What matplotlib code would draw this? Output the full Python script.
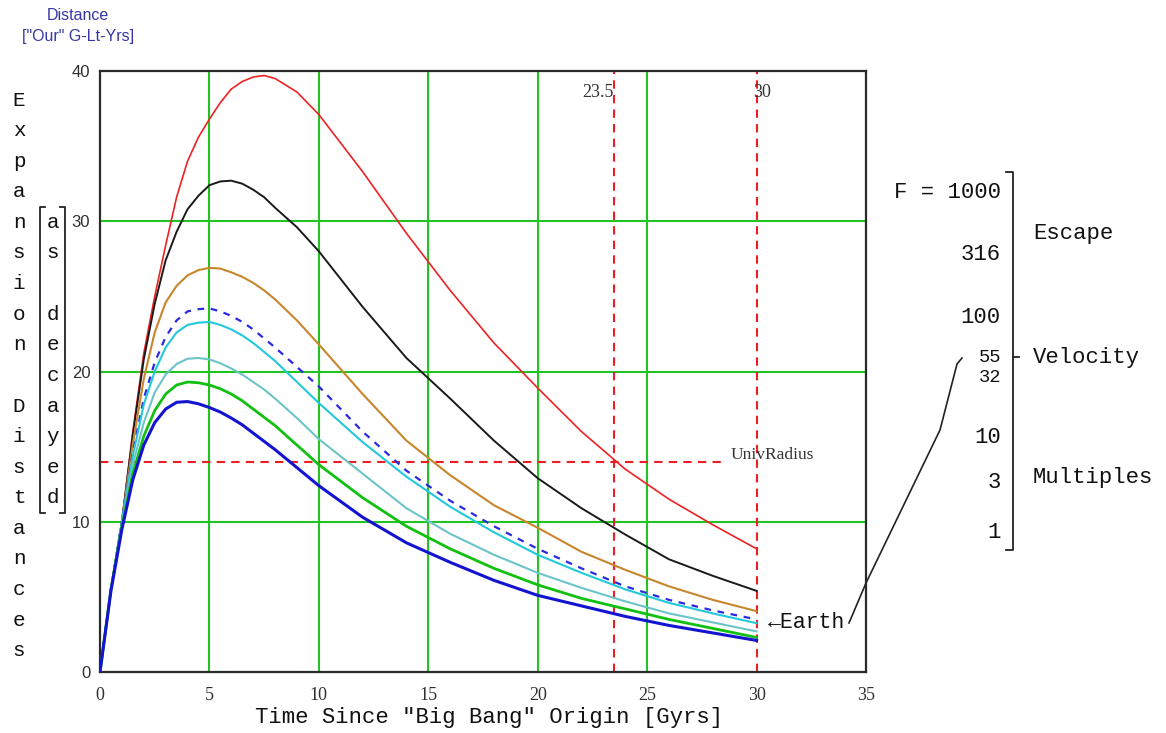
import matplotlib
matplotlib.use('Agg')
import matplotlib.pyplot as plt
from matplotlib.lines import Line2D

# ---------------- data ----------------
t = [0, 0.5, 1, 1.5, 2, 2.5, 3, 3.5, 4, 4.5, 5, 5.5, 6, 6.5, 7, 7.5, 8, 9, 10,
     12, 14, 16, 18, 20, 22, 24, 26, 28, 30]

d_red = [0, 5.5, 10, 16, 21.2, 25, 28.4, 31.6, 34.0, 35.6, 36.8, 37.9, 38.8, 39.3, 39.6, 39.7, 39.5, 38.6, 37.1,
         33.3, 29.2, 25.4, 21.9, 18.9, 16.0, 13.5, 11.5, 9.8, 8.2]
d_black = [0, 5.5, 10, 15.8, 20.8, 24.5, 27.4, 29.3, 30.8, 31.7, 32.4, 32.65, 32.7, 32.5, 32.1, 31.6, 30.9, 29.6, 28.0,
           24.3, 20.9, 18.2, 15.4, 12.9, 10.9, 9.15, 7.5, 6.4, 5.4]
d_orange = [0, 5.5, 10, 15.2, 19.5, 22.6, 24.6, 25.7, 26.4, 26.75, 26.9, 26.85, 26.6, 26.3, 25.9, 25.4, 24.8, 23.4, 21.8,
            18.5, 15.4, 13.1, 11.1, 9.6, 8.0, 6.8, 5.7, 4.8, 4.05]
d_dash = [0, 5.5, 10, 14.6, 18.2, 20.6, 22.3, 23.4, 24.0, 24.15, 24.2, 24.0, 23.7, 23.3, 22.8, 22.2, 21.6, 20.3, 19.0,
          16.0, 13.4, 11.4, 9.7, 8.2, 6.9, 5.7, 4.8, 4.1, 3.5]
d_cyan = [0, 5.5, 10, 14.4, 17.8, 20.0, 21.6, 22.6, 23.1, 23.25, 23.3, 23.1, 22.8, 22.4, 21.9, 21.3, 20.7, 19.3, 17.9,
          15.3, 13.0, 11.0, 9.3, 7.8, 6.6, 5.5, 4.6, 3.9, 3.25]
d_lcyan = [0, 5.5, 9.8, 13.8, 16.6, 18.6, 19.8, 20.5, 20.85, 20.9, 20.8, 20.55, 20.2, 19.8, 19.3, 18.8, 18.2, 16.9, 15.5,
           13.2, 10.9, 9.2, 7.8, 6.6, 5.6, 4.7, 3.9, 3.3, 2.7]
d_green = [0, 5.5, 9.7, 13.2, 15.7, 17.4, 18.5, 19.1, 19.3, 19.25, 19.1, 18.85, 18.5, 18.05, 17.5, 16.95, 16.4, 15.1, 13.8,
           11.6, 9.7, 8.2, 6.9, 5.8, 4.9, 4.2, 3.5, 2.9, 2.3]
d_blue = [0, 5.4, 9.5, 12.8, 15.1, 16.6, 17.5, 17.95, 18.0, 17.85, 17.6, 17.3, 16.9, 16.45, 15.9, 15.35, 14.8, 13.6, 12.4,
          10.3, 8.6, 7.3, 6.1, 5.1, 4.4, 3.7, 3.1, 2.6, 2.1]

x_ticks = [0, 5, 10, 15, 20, 25, 30, 35]
y_ticks = [0, 10, 20, 30, 40]
x_grid = [5, 10, 15, 20, 25]
y_grid = [10, 20, 30]
univ_radius = 14
now_time = 23.5
end_time = 30

f_labels = ["F = 1000", "316", "100", "10", "3", "1"]
f_small = ["55", "32"]
side_words = ["Escape", "Velocity", "Multiples"]

# ---------------- figure ----------------
W, H = 1166, 733
fig = plt.figure(figsize=(W / 100, H / 100), dpi=100)
fig.patch.set_facecolor('white')


def fx(px):
    return px / W


def fy(py):
    return 1 - py / H


ax = fig.add_axes([fx(100), fy(672), 766 / W, 601 / H])
ax.set_xlim(0, 35)
ax.set_ylim(0, 40)

for s in ax.spines.values():
    s.set_linewidth(1.6)
    s.set_color('#2a2a2a')

grid_c = '#22c422'
for xv in x_grid:
    ax.axvline(xv, color=grid_c, lw=1.5, zorder=1)
for yv in y_grid:
    ax.axhline(yv, color=grid_c, lw=1.5, zorder=1)

red_d = '#ee1c24'
ax.axvline(now_time, color=red_d, lw=1.5, ls=(0, (4, 3)), zorder=2)
ax.axvline(end_time, color=red_d, lw=1.5, ls=(0, (4, 3)), zorder=2)
ax.plot([0, 28.4], [univ_radius, univ_radius], color=red_d, lw=1.5, ls=(0, (4, 3)), zorder=2)

ax.plot(t, d_red, color='#ee2222', lw=1.2, zorder=3)
ax.plot(t, d_black, color='#1a1a1a', lw=1.4, zorder=3)
ax.plot(t, d_orange, color='#c8862c', lw=1.5, zorder=3)
ax.plot(t, d_dash, color='#2a2ae0', lw=1.6, ls=(0, (3, 3)), zorder=3)
ax.plot(t, d_cyan, color='#22c8dc', lw=1.5, zorder=3)
ax.plot(t, d_lcyan, color='#6cc4c8', lw=1.5, zorder=3)
ax.plot(t, d_green, color='#12c012', lw=2.0, zorder=3)
ax.plot(t, d_blue, color='#1414d0', lw=2.2, zorder=3)

ax.set_xticks(x_ticks)
ax.set_xticklabels([str(v) for v in x_ticks], fontfamily='Liberation Serif', fontsize=13, color='#303030')
ax.set_yticks(y_ticks)
ax.set_yticklabels([str(v) for v in y_ticks], fontfamily='Liberation Sans', fontsize=12, color='#303030')
ax.tick_params(axis='x', length=0, pad=11)
ax.tick_params(axis='y', length=0, pad=7)

ax.text(28.8, 14.45, "UnivRadius", fontfamily='Liberation Serif', fontsize=12.5,
        color='#333333', va='center', ha='left', zorder=4)
ax.text(now_time - 0.05, 38.6, "23.5", fontfamily='Liberation Serif', fontsize=13,
        color='#333333', va='center', ha='right')
ax.text(end_time - 0.15, 38.6, "30", fontfamily='Liberation Serif', fontsize=13,
        color='#333333', va='center', ha='left')

mono = ['Liberation Mono', 'DejaVu Sans Mono']

# x label
fig.text(fx(489), fy(718), 'Time Since "Big Bang" Origin [Gyrs]', family=mono,
         fontsize=16, ha='center', va='center', color='#111111')

# top-left unit label
fig.text(fx(78), fy(16), "Distance", family='Liberation Sans', fontsize=11.5,
         color='#3636a6', ha='center', va='center')
fig.text(fx(78), fy(37), '["Our" G-Lt-Yrs]', family='Liberation Sans', fontsize=11.5,
         color='#3636a6', ha='center', va='center')

# vertical left label
left_word = "Expansion Distances"
for i, ch in enumerate(left_word):
    if ch != ' ':
        fig.text(fx(19), fy(100 + i * 30.6), ch, family=mono, fontsize=15,
                 ha='center', va='center', color='#111111')
inner_word = "as decayed"
for i, ch in enumerate(inner_word):
    if ch != ' ':
        fig.text(fx(53), fy(100 + (i + 4) * 30.6), ch, family=mono, fontsize=15,
                 ha='center', va='center', color='#111111')

# brackets around "as decayed"
bk = dict(color='#222222', lw=1.3, transform=fig.transFigure)
for xs, ys in [([45, 40, 40, 45], [207, 207, 513, 513]),
               ([60, 65, 65, 60], [207, 207, 513, 513])]:
    fig.add_artist(Line2D([fx(v) for v in xs], [fy(v) for v in ys], **bk))

# right-side F bracket
fig.add_artist(Line2D([fx(1006), fx(1013), fx(1013), fx(1006)],
                      [fy(172), fy(172), fy(550), fy(550)], **bk))
fig.add_artist(Line2D([fx(1013), fx(1019)], [fy(357), fy(357)], **bk))

f_y = [192, 255, 317, 438, 483, 532]
for lab, yy in zip(f_labels, f_y):
    fig.text(fx(1001), fy(yy), lab, family=mono, fontsize=16, ha='right', va='center', color='#111111')
for lab, yy in zip(f_small, [358, 377]):
    fig.text(fx(1001), fy(yy), lab, family=mono, fontsize=13.5, ha='right', va='center', color='#111111')
for lab, yy in zip(side_words, [233, 357, 478]):
    fig.text(fx(1033), fy(yy), lab, family=mono, fontsize=16, ha='left', va='center', color='#111111')

# Earth pointer
fig.text(fx(768), fy(622), "\u2190Earth", family=mono, fontsize=15.5, ha='left', va='center', color='#111111')
fig.add_artist(Line2D([fx(849), fx(866), fx(940), fx(957), fx(962)],
                      [fy(623), fy(583), fy(430), fy(364), fy(358)],
                      color='#222222', lw=1.2, transform=fig.transFigure))

fig.savefig('out.png', dpi=100, facecolor='white')
